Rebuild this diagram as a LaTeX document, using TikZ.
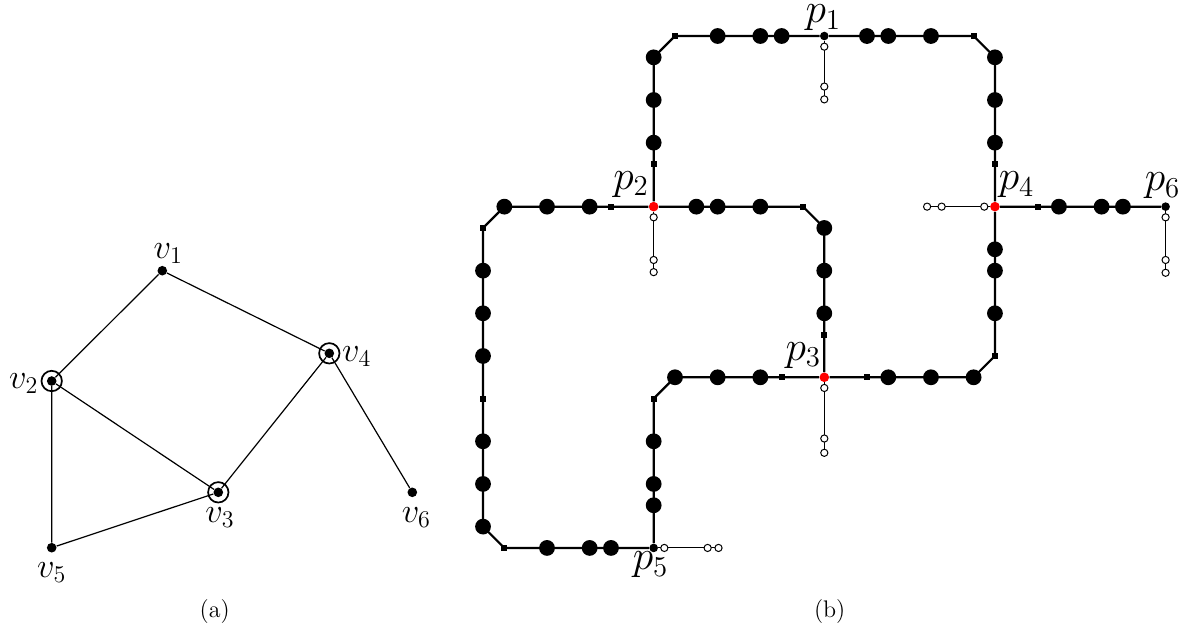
\documentclass[tikz,border=0pt]{standalone}
\usetikzlibrary{positioning}
\tikzset{
  vdot/.style={circle,fill=black,inner sep=0pt,minimum size=4.8pt},
  ring/.style={circle,draw=black,line width=0.85pt,inner sep=0pt,minimum size=10.2pt},
  gedge/.style={line width=0.6pt},
  vlab/.style={font=\LARGE,inner sep=0pt},
  plab/.style={font=\huge,inner sep=0pt},
  sublab/.style={font=\large,inner sep=0pt},
  track/.style={line width=1.1pt,line join=round},
  stub/.style={line width=0.5pt},
  bigdot/.style={circle,fill=black,inner sep=0pt,minimum size=7.9pt},
  sqmark/.style={rectangle,fill=black,inner sep=0pt,minimum size=3pt},
  hollow/.style={circle,draw=black,fill=white,line width=0.5pt,inner sep=0pt,minimum size=3.6pt},
  pend/.style={circle,fill=black,inner sep=0pt,minimum size=4.3pt},
  phit/.style={circle,fill=red,inner sep=0pt,minimum size=4.8pt}
}
\begin{document}
\begin{tikzpicture}[x=0.5pt,y=-0.5pt]
  \useasboundingbox (0,0) rectangle (1188,634);

  % (a) the graph
  \node[vdot] (v1) at (162.3,270.7) {};
  \node[vdot] (v2) at (51.7,381) {};
  \node[vdot] (v3) at (218.3,492.3) {};
  \node[vdot] (v4) at (329.3,353.3) {};
  \node[vdot] (v5) at (51.7,547.7) {};
  \node[vdot] (v6) at (412.3,492.3) {};
  \foreach \v in {v2,v3,v4}
    \node[ring] (r\v) at (\v) {};
  \draw[gedge] (v1) -- (v2) (v1) -- (v4) (v2) -- (v3) (v2) -- (v5)
               (v3) -- (v4) (v3) -- (v5) (v4) -- (v6);
  \node[vlab] (lv1) at (168.3,253.7) {$v_1$};
  \node[vlab] (lv2) at (23.7,383.3) {$v_2$};
  \node[vlab] (lv3) at (220,517.5) {$v_3$};
  \node[vlab] (lv4) at (356.7,356.3) {$v_4$};
  \node[vlab] (lv5) at (51.7,572.5) {$v_5$};
  \node[vlab] (lv6) at (416.3,517.5) {$v_6$};
  \node[sublab] (capa) at (214.7,611) {(a)};

  % (b) the grid embedding
  \coordinate (o) at (824.3,36);
  \begin{scope}[shift={(o)},x=10.665pt,y=-10.665pt]
    \node[pend] (p1) at (0,0) {};
    \node[phit] (p2) at (-8,8) {};
    \node[phit] (p3) at (0,16) {};
    \node[phit] (p4) at (8,8) {};
    \node[pend] (p5) at (-8,24) {};
    \node[pend] (p6) at (16,8) {};

    \draw[track] (p2) -- (-8,1) -- (-7,0) -- (p1) -- (7,0) -- (8,1) -- (p4);
    \draw[track] (p2) -- (-1,8) -- (0,9) -- (p3) -- (-7,16) -- (-8,17) -- (p5)
                 -- (-15,24) -- (-16,23) -- (-16,9) -- (-15,8) -- (p2);
    \draw[track] (p3) -- (7,16) -- (8,15) -- (p4) -- (p6);

    \foreach \x/\y in {-8/5,-8/3,-8/1,-5/0,-3/0,-2/0,2/0,3/0,5/0,8/1,8/3,8/5,
                       -6/8,-5/8,-3/8,0/9,0/11,0/13,-3/16,-5/16,-7/16,
                       -8/19,-8/21,-8/22,-10/24,-11/24,-13/24,-16/23,-16/21,-16/19,
                       -16/15,-16/13,-16/11,-15/8,-13/8,-11/8,
                       3/16,5/16,7/16,8/13,8/11,8/10,11/8,13/8,14/8}
      \node[bigdot] at (\x,\y) {};
    \foreach \x/\y in {-8/6,-7/0,7/0,8/6,-1/8,0/14,-2/16,-8/17,-15/24,-16/17,
                       -16/9,-10/8,2/16,8/15,10/8}
      \node[sqmark] at (\x,\y) {};

    \foreach \p/\dx/\dy/\a/\b in {p1/0/1/2.37/2.97, p2/0/1/2.5/3.07,
        p3/0/1/2.87/3.54, p4/-1/0/2.5/3.18, p5/1/0/2.53/3.04, p6/0/1/2.5/3.1}{
      \draw[stub] (\p) -- ([shift={(\dx*\b,\dy*\b)}]\p.center);
      \foreach \t in {0.5,\a,\b}
        \node[hollow] at ([shift={(\dx*\t,\dy*\t)}]\p.center) {};
    }
  \end{scope}

  \node[plab] (lp1) at (823.3,18) {$p_1$};
  \node[plab] (lp2) at (631,184.2) {$p_2$};
  \node[plab] (lp3) at (803.3,355.8) {$p_3$};
  \node[plab] (lp4) at (1016.5,185) {$p_4$};
  \node[plab] (lp5) at (650.5,565) {$p_5$};
  \node[plab] (lp6) at (1162.5,186) {$p_6$};
  \node[sublab] (capb) at (829.7,611) {(b)};
\end{tikzpicture}
\end{document}
